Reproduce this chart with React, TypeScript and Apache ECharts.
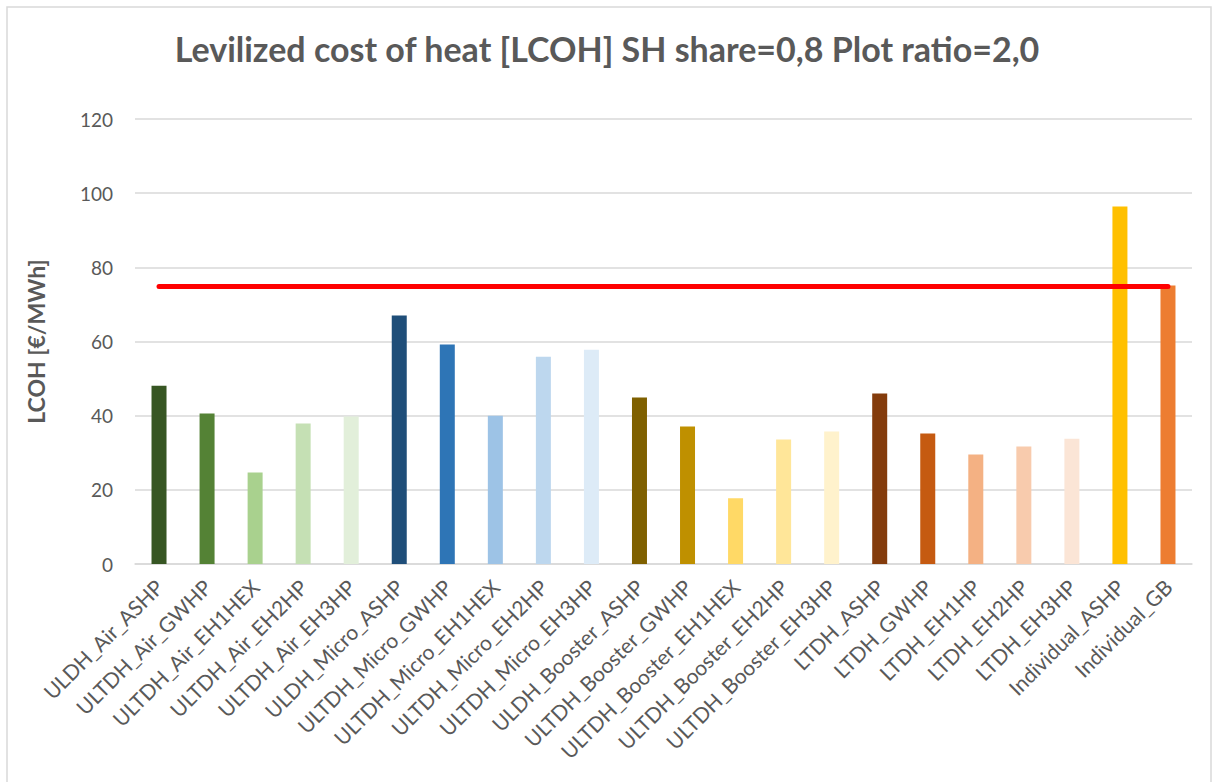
import React, { useEffect, useRef } from "react";
import * as echarts from "echarts";

const categories = [
  "ULDH_Air_ASHP",
  "ULTDH_Air_GWHP",
  "ULTDH_Air_EH1HEX",
  "ULTDH_Air_EH2HP",
  "ULTDH_Air_EH3HP",
  "ULDH_Micro_ASHP",
  "ULTDH_Micro_GWHP",
  "ULTDH_Micro_EH1HEX",
  "ULTDH_Micro_EH2HP",
  "ULTDH_Micro_EH3HP",
  "ULDH_Booster_ASHP",
  "ULTDH_Booster_GWHP",
  "ULTDH_Booster_EH1HEX",
  "ULTDH_Booster_EH2HP",
  "ULTDH_Booster_EH3HP",
  "LTDH_ASHP",
  "LTDH_GWHP",
  "LTDH_EH1HP",
  "LTDH_EH2HP",
  "LTDH_EH3HP",
  "Individual_ASHP",
  "Individual_GB",
];

const lcohValues = [
  48.1, 40.6, 24.7, 37.9, 39.8, 67.0, 59.2, 40.0, 55.9, 57.8, 44.9, 37.1, 17.7,
  33.6, 35.7, 46.0, 35.2, 29.5, 31.7, 33.8, 96.4, 75.1,
];

const barColors = [
  "#375623", "#548235", "#A9D18E", "#C5E0B4", "#E2EFDA",
  "#1F4E79", "#2E75B6", "#9DC3E6", "#BDD7EE", "#DDEBF7",
  "#7F6000", "#BF9000", "#FFD966", "#FFE699", "#FFF2CC",
  "#843C0C", "#C55A11", "#F4B183", "#F8CBAD", "#FBE5D6",
  "#FFC000", "#ED7D31",
];

// Reference level (individual gas boiler cost)
const referenceLevel = 75;

const yTicks = { min: 0, max: 120, interval: 20 };

const FONT = "Lato, 'Open Sans', sans-serif";
const TEXT = "#595959";
const GRID = "#D9D9D9";

export default function App() {
  const ref = useRef<HTMLDivElement>(null);

  useEffect(() => {
    document.body.style.margin = "0";
    const chart = echarts.init(ref.current!, null, { renderer: "svg" });
    chart.setOption({
      animation: false,
      backgroundColor: "#ffffff",
      textStyle: { fontFamily: FONT },
      title: {
        text: "Levilized cost of heat [LCOH] SH share=0,8 Plot ratio=2,0",
        left: "center",
        top: 26,
        textStyle: {
          fontFamily: FONT,
          fontSize: 34,
          fontWeight: "bold",
          color: TEXT,
        },
      },
      graphic: [
        {
          type: "rect",
          shape: { x: 7, y: 7, width: 1204, height: 790 },
          style: { fill: "none", stroke: GRID, lineWidth: 1.5 },
          silent: true,
        },
      ],
      grid: { left: 135, right: 22, top: 119, bottom: 218 },
      xAxis: {
        type: "category",
        data: categories,
        axisLine: { lineStyle: { color: GRID, width: 1.5 } },
        axisTick: { show: false },
        axisLabel: {
          rotate: 45,
          interval: 0,
          color: TEXT,
          fontSize: 21,
          fontFamily: FONT,
          margin: 19,
        },
      },
      yAxis: {
        type: "value",
        min: yTicks.min,
        max: yTicks.max,
        interval: yTicks.interval,
        name: "LCOH [€/MWh]",
        nameLocation: "middle",
        nameGap: 88,
        nameTextStyle: {
          color: TEXT,
          fontSize: 23,
          fontWeight: "bold",
          fontFamily: FONT,
        },
        axisLine: { show: false },
        axisTick: { show: false },
        axisLabel: { color: TEXT, fontSize: 19, fontFamily: FONT, margin: 22 },
        splitLine: { lineStyle: { color: GRID, width: 1.5 } },
      },
      series: [
        {
          type: "bar",
          data: lcohValues.map((v, i) => ({
            value: v,
            itemStyle: { color: barColors[i] },
          })),
          barWidth: 15,
          markLine: {
            silent: true,
            symbol: "none",
            label: { show: false },
            lineStyle: { color: "#FF0000", width: 5, type: "solid", cap: "round" },
            data: [
              [
                { xAxis: 0, yAxis: referenceLevel },
                { xAxis: categories.length - 1, yAxis: referenceLevel },
              ],
            ],
          },
        },
      ],
    });
    return () => chart.dispose();
  }, []);

  return (
    <div
      ref={ref}
      style={{ position: "absolute", left: 0, top: 0, width: 1214, height: 782 }}
    />
  );
}
